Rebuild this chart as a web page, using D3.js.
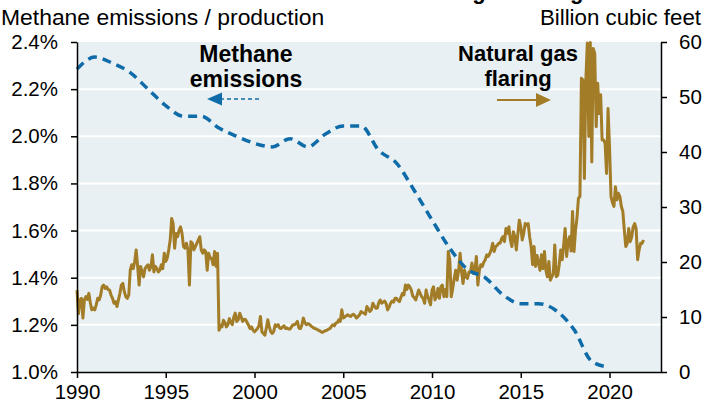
<!DOCTYPE html>
<html><head><meta charset="utf-8">
<script src="https://cdn.jsdelivr.net/npm/d3@7"></script>
<style>
html,body{margin:0;padding:0;background:#fff;}
svg{display:block;}
text{font-family:"Liberation Sans",Arial,Helvetica,sans-serif;}
</style></head>
<body>
<svg id="chart" width="704" height="400"></svg>
<script>
// ---------------- DATA ----------------
const titleText = "Methane emissions vs. natural gas flaring";
const leftAxisTitle = "Methane emissions / production";
const rightAxisTitle = "Billion cubic feet";
const xTickYears = [1990, 1995, 2000, 2005, 2010, 2015, 2020];
const leftTicks = [1.0, 1.2, 1.4, 1.6, 1.8, 2.0, 2.2, 2.4];
const rightTicks = [0, 10, 20, 30, 40, 50, 60];

// Methane emissions / production (%), annual
const methaneYears = [1990,1991,1992,1993,1994,1995,1996,1997,1998,1999,2000,2001,2002,2003,2004,2005,2006,2007,2008,2009,2010,2011,2012,2013,2014,2015,2016,2017,2018,2019,2020];
const methaneShare = [2.285,2.336,2.31,2.27,2.20,2.13,2.085,2.085,2.035,2.0,1.97,1.955,1.99,1.955,2.01,2.044,2.044,1.94,1.886,1.77,1.645,1.525,1.435,1.40,1.327,1.29,1.29,1.26,1.18,1.045,1.02];

// Natural gas flaring (billion cubic feet), monthly, Jan 1990 - Dec 2021
const flaringStartYear = 1990;
const flaringMonthly = [
 14.9,10.6,13.1,13.4,9.8,13.1,13.7,13.2,14.3,12.6,11.3,11.6,   // 1990
 11.3,12.2,13.4,13.1,14.0,15.5,15.8,15.2,15.5,15.0,14.9,14.0,  // 1991
 13.4,12.5,12.8,11.9,13.1,14.3,15.8,16.1,14.6,13.7,13.4,14.0,  // 1992
 18.5,19.5,18.8,20.1,22.2,19.2,15.8,19.2,18.2,17.3,18.8,19.2,  // 1993
 19.5,18.5,19.2,21.3,18.2,19.2,18.8,18.2,18.5,19.5,18.8,21.6,  // 1994
 20.1,20.7,22.2,24.0,27.9,27.0,22.5,25.2,24.6,25.8,26.4,25.2,  // 1995
 22.8,22.5,23.4,22.2,15.8,23.7,23.4,22.2,22.8,23.4,24.0,24.6,  // 1996
 22.2,21.6,22.2,21.9,18.5,21.6,20.7,20.7,19.5,21.9,19.2,21.6,  // 1997
 7.6,8.5,8.2,9.4,9.0,8.2,8.6,9.7,9.0,8.6,10.0,10.7,            // 1998
 9.2,9.5,10.7,10.0,9.2,9.6,9.5,9.0,8.5,7.9,8.2,7.6,            // 1999
 7.3,7.6,7.9,8.4,10.1,7.3,7.0,6.7,8.0,9.5,8.2,7.3,             // 2000
 7.0,7.4,8.6,8.3,8.6,8.0,7.9,8.2,8.4,7.9,8.0,7.8,              // 2001
 7.8,8.2,8.6,8.6,8.8,9.2,8.0,7.9,8.5,9.8,9.0,8.6,              // 2002
 8.8,8.7,8.4,8.2,8.0,7.9,7.8,7.6,7.5,7.3,7.2,7.4,              // 2003
 7.5,7.6,7.8,7.9,8.3,8.6,8.4,8.9,9.0,9.5,9.2,11.3,             // 2004
 9.8,10.0,10.2,10.4,10.2,10.1,10.4,10.5,10.2,9.8,10.1,10.4,    // 2005
 11.0,10.8,10.7,10.5,11.9,11.5,11.0,11.3,12.5,12.0,11.6,11.6,  // 2006
 12.6,13.1,12.5,12.7,12.9,12.4,11.3,11.8,12.5,12.9,12.7,13.4,  // 2007
 13.4,13.0,12.8,13.6,14.3,14.0,15.8,15.0,15.8,15.5,14.9,13.8,  // 2008
 13.5,13.1,14.0,14.9,14.3,13.7,13.4,12.5,14.9,13.8,13.1,12.2,  // 2009
 14.9,15.5,13.1,13.7,15.2,13.4,15.5,15.8,13.7,15.0,13.7,21.9,  // 2010
 20.4,13.7,15.2,17.0,18.5,16.7,18.5,21.6,18.2,16.1,18.5,17.3,  // 2011
 17.0,18.2,18.2,19.8,17.9,18.5,21.0,15.8,18.5,19.5,19.2,20.0,  // 2012
 20.4,21.3,21.0,21.5,22.2,23.4,21.9,22.8,23.0,23.4,23.4,24.2,  // 2013
 24.6,23.7,26.1,25.2,26.4,24.0,22.8,25.5,24.6,22.2,25.0,27.6,  // 2014
 26.4,24.0,25.2,27.0,26.7,27.0,24.6,22.8,19.5,22.8,19.2,21.2,  // 2015
 19.8,18.5,21.3,18.8,21.9,18.5,17.3,20.1,16.7,17.3,17.9,23.1,  // 2016
 17.3,17.6,19.5,22.2,20.4,23.1,26.1,21.0,23.7,24.6,22.0,29.2,  // 2017
 21.9,25.8,28.0,31.6,31.9,53.4,53.1,35.2,53.1,59.8,42.8,59.9,  // 2018
 38.2,58.8,57.9,44.6,52.5,47.0,50.4,42.2,42.2,41.6,36.1,47.9,  // 2019
 41.0,31.9,30.8,30.1,33.7,31.3,32.5,31.9,30.1,29.2,25.8,22.8,  // 2020
 23.4,26.1,23.7,24.6,26.4,27.0,26.0,20.4,22.2,23.4,23.4,24.0   // 2021
];

// ---------------- CHART ----------------
const svg = d3.select("#chart");
const plot = {left: 77, right: 661, top: 42, bottom: 372};
const blue = "#106ca8", gold = "#a27c26", bg = "#e8f0f3";

const x = d3.scaleLinear().domain([1990, 2022.9]).range([plot.left, plot.right]);
const yL = d3.scaleLinear().domain([1.0, 2.4]).range([plot.bottom, plot.top]);
const yR = d3.scaleLinear().domain([0, 60]).range([plot.bottom, plot.top]);

// background
svg.append("rect").attr("x", plot.left).attr("y", plot.top)
  .attr("width", plot.right - plot.left).attr("height", plot.bottom - plot.top)
  .attr("fill", bg);

// gridlines (left axis)
svg.append("g").selectAll("line").data(leftTicks.slice(1, -1)).join("line")
  .attr("x1", plot.left).attr("x2", plot.right)
  .attr("y1", d => yL(d)).attr("y2", d => yL(d))
  .attr("stroke", "#fff").attr("stroke-width", 2);

// flaring line
const flaring = flaringMonthly.map((v, i) => ({t: flaringStartYear + i / 12, v}));
svg.append("path").datum(flaring)
  .attr("fill", "none").attr("stroke", gold).attr("stroke-width", 3)
  .attr("stroke-linejoin", "round")
  .attr("d", d3.line().x(d => x(d.t)).y(d => yR(d.v)));

// methane line
const methane = methaneYears.map((yr, i) => ({t: yr, v: methaneShare[i]}));
svg.append("path").datum(methane)
  .attr("fill", "none").attr("stroke", blue).attr("stroke-width", 3.5)
  .attr("stroke-dasharray", "9,6")
  .attr("d", d3.line().curve(d3.curveMonotoneX).x(d => x(d.t)).y(d => yL(d.v)));

// axes
function styleAxis(g, fs) {
  g.selectAll("path.domain").attr("stroke", "#000").attr("stroke-width", 1.5);
  g.selectAll(".tick line").attr("stroke", "#000").attr("stroke-width", 1.5);
  g.selectAll(".tick text").attr("fill", "#000").style("font-size", fs + "px")
    .style("font-family", '"Liberation Sans", Arial, sans-serif');
}
const gL = svg.append("g").attr("transform", `translate(${plot.left},0)`)
  .call(d3.axisLeft(yL).tickValues(leftTicks).tickFormat(d => d3.format(".1f")(d) + "%")
        .tickSize(6).tickSizeOuter(0).tickPadding(13));
styleAxis(gL, 20.5);
const gR = svg.append("g").attr("transform", `translate(${plot.right},0)`)
  .call(d3.axisRight(yR).tickValues(rightTicks).tickSize(6).tickSizeOuter(0).tickPadding(12));
styleAxis(gR, 20.5);
const gB = svg.append("g").attr("transform", `translate(0,${plot.bottom})`)
  .call(d3.axisBottom(x).tickValues(xTickYears).tickFormat(d3.format("d"))
        .tickSize(6).tickSizeOuter(0).tickPadding(6));
styleAxis(gB, 20.5);

// titles
svg.append("text").attr("x", 380 - 233).attr("y", -1)
  .style("font-size", "22px").style("font-weight", "bold").attr("fill", "#000")
  .text(titleText);
svg.append("text").attr("x", 1).attr("y", 25).style("font-size", "22.9px").attr("fill", "#000")
  .text(leftAxisTitle);
svg.append("text").attr("x", 701).attr("y", 25).attr("text-anchor", "end")
  .style("font-size", "22.3px").attr("fill", "#000").text(rightAxisTitle);

// annotations
const ann = svg.append("g").style("font-weight", "bold").attr("fill", "#000")
  .attr("text-anchor", "middle");
ann.append("text").attr("x", 246).attr("y", 62).style("font-size", "23px").text("Methane");
ann.append("text").attr("x", 246).attr("y", 87).style("font-size", "23px").text("emissions");
ann.append("text").attr("x", 518).attr("y", 61).style("font-size", "22px").text("Natural gas");
ann.append("text").attr("x", 518).attr("y", 86).style("font-size", "22px").text("flaring");

// arrows
svg.append("line").attr("x1", 259).attr("x2", 220).attr("y1", 99).attr("y2", 99)
  .attr("stroke", blue).attr("stroke-width", 1.5).attr("stroke-dasharray", "4,3");
svg.append("path").attr("d", "M207,99 L222,92.5 L222,105.5 Z").attr("fill", blue);
svg.append("line").attr("x1", 497).attr("x2", 537).attr("y1", 100).attr("y2", 100)
  .attr("stroke", gold).attr("stroke-width", 2);
svg.append("path").attr("d", "M551,100 L536,93 L536,107 Z").attr("fill", gold);
</script>
</body></html>
